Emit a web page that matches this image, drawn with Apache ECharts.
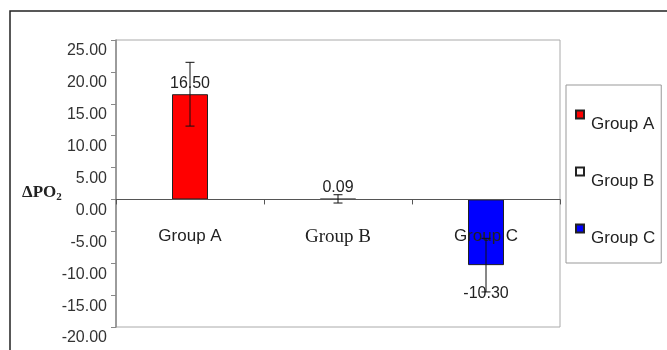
<!DOCTYPE html>
<html>
<head>
<meta charset="utf-8">
<script src="https://cdn.jsdelivr.net/npm/echarts@6/dist/echarts.min.js"></script>
<style>
  html, body { margin: 0; padding: 0; background: #ffffff; }
  #chart { width: 667px; height: 350px; }
</style>
</head>
<body>
<div id="chart"></div>
<script>
// Change in PO2 per group, with error bar half-widths
const categories = ['Group A', 'Group B', 'Group C'];
const means = [16.50, 0.09, -10.30];
const errors = [5.0, 0.65, 4.2];
const fills = ['#ff0000', '#ffffff', '#0000ff'];
const yTicks = { min: -20, max: 25, step: 5 };

const SANS = "'Liberation Sans', Arial, sans-serif";
const SERIF = "'Liberation Serif', 'Times New Roman', serif";

const W = 667, H = 350;
const GRID = { left: 116, right: 107, top: 40, bottom: 23 };
// lift the category axis from the bottom edge up to the zero line
const plotHeight = H - GRID.top - GRID.bottom;
const zeroOffset = -((0 - yTicks.min) / (yTicks.max - yTicks.min)) * plotHeight;

const chart = echarts.init(document.getElementById('chart'), null, { renderer: 'canvas' });

// one bar series per group so each gets its own legend entry
const barSeries = categories.map((name, i) => ({
  name: name,
  type: 'bar',
  barWidth: 36,
  barGap: '-100%',
  z: 2,
  data: categories.map((_, j) => (j === i ? means[i] : '-')),
  itemStyle: { color: fills[i], borderColor: '#222', borderWidth: 1 },
  label: {
    show: true,
    position: means[i] < 0 ? 'bottom' : 'top',
    distance: means[i] < 0 ? 20 : 3,
    formatter: p => Number(p.value).toFixed(2),
    fontFamily: SANS,
    fontSize: 16,
    color: '#222'
  }
}));

const errorSeries = {
  name: 'error',
  type: 'custom',
  z: 5,
  silent: true,
  data: categories.map((_, i) => [i, means[i] + errors[i], means[i] - errors[i]]),
  renderItem: (params, api) => {
    const hi = api.coord([api.value(0), api.value(1)]);
    const lo = api.coord([api.value(0), api.value(2)]);
    const cap = 4.5;
    const style = { stroke: '#111', lineWidth: 1 };
    return {
      type: 'group',
      children: [
        { type: 'line', shape: { x1: hi[0], y1: hi[1], x2: lo[0], y2: lo[1] }, style },
        { type: 'line', shape: { x1: hi[0] - cap, y1: hi[1], x2: hi[0] + cap, y2: hi[1] }, style },
        { type: 'line', shape: { x1: lo[0] - cap, y1: lo[1], x2: lo[0] + cap, y2: lo[1] }, style }
      ]
    };
  }
};

chart.setOption({
  animation: false,
  backgroundColor: '#ffffff',
  grid: {
    left: GRID.left, right: GRID.right, top: GRID.top, bottom: GRID.bottom,
    containLabel: false,
    outerBoundsMode: 'none',
    show: true, borderColor: '#aaaaaa', borderWidth: 1
  },
  legend: {
    orient: 'vertical',
    left: 566,
    top: 85,
    padding: [11, 6, 16, 9],
    itemWidth: 8,
    itemHeight: 8,
    itemGap: 20,
    icon: 'rect',
    borderColor: '#999999',
    borderWidth: 1,
    data: categories,
    formatter: name => `{t|${name}}`,
    textStyle: {
      fontFamily: SANS,
      fontSize: 17,
      color: '#222',
      rich: {
        t: { fontFamily: SANS, fontSize: 17, color: '#222', lineHeight: 20, padding: [20, 0, 0, 2] }
      }
    }
  },
  xAxis: {
    type: 'category',
    data: categories,
    position: 'bottom',
    offset: zeroOffset,
    z: 3,
    axisLine: { onZero: false, lineStyle: { color: '#555555', width: 1 } },
    axisTick: { show: true, interval: 0, length: 5, inside: false, lineStyle: { color: '#555555' } },
    axisLabel: {
      show: true,
      interval: 0,
      hideOverlap: false,
      margin: 28,
      formatter: (v, i) => (i === 1 ? `{serif|${v}}` : `{sans|${v}}`),
      rich: {
        sans: { fontFamily: SANS, fontSize: 17, color: '#222' },
        serif: { fontFamily: SERIF, fontSize: 19, color: '#222' }
      }
    },
    splitLine: { show: false }
  },
  yAxis: {
    type: 'value',
    min: yTicks.min,
    max: yTicks.max,
    interval: yTicks.step,
    axisLine: { show: true, lineStyle: { color: '#888888', width: 1.5 } },
    axisTick: { show: true, length: 5, lineStyle: { color: '#888888' } },
    axisLabel: {
      formatter: v => v.toFixed(2),
      fontFamily: SANS,
      fontSize: 16,
      color: '#333',
      margin: 9,
      verticalAlign: 'top',
      lineHeight: 22
    },
    splitLine: { show: false }
  },
  graphic: [
    {
      type: 'rect',
      shape: { x: 10, y: 11, width: 700, height: 400 },
      style: { fill: 'none', stroke: '#222', lineWidth: 1.5 },
      silent: true,
      z: -10
    },
    {
      type: 'text',
      x: 22,
      y: 193,
      style: {
        text: '{a|ΔPO}{s|2}',
        verticalAlign: 'middle',
        rich: {
          a: { fontFamily: SERIF, fontSize: 17, fontWeight: 'bold', fill: '#222' },
          s: { fontFamily: SERIF, fontSize: 11, fontWeight: 'bold', fill: '#222', padding: [9, 0, 0, 0] }
        }
      }
    }
  ],
  series: [...barSeries, errorSeries]
});
</script>
</body>
</html>
